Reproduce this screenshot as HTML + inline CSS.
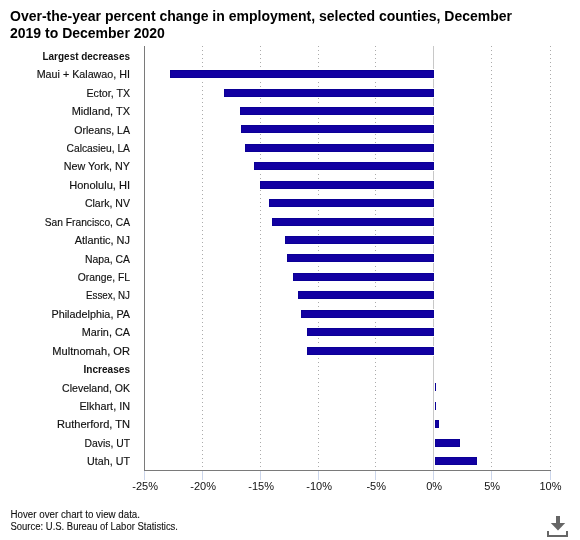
<!DOCTYPE html>
<html><head><meta charset="utf-8">
<style>
html,body{margin:0;padding:0;background:#fff;width:580px;height:540px;overflow:hidden}
svg{display:block}
text{will-change:transform}
.t{font-family:"Liberation Sans",sans-serif;font-weight:bold;font-size:14px;fill:#000}
.lab{font-family:"Liberation Sans",sans-serif;font-size:10.5px;fill:#111;stroke:#111;stroke-width:0.15px}
.xl{font-family:"Liberation Sans",sans-serif;font-size:11px;fill:#111}
.ft{font-family:"Liberation Sans",sans-serif;font-size:10px;fill:#111;stroke:#111;stroke-width:0.1px}
</style></head><body>
<svg width="580" height="540" viewBox="0 0 580 540">
<rect width="580" height="540" fill="#fff"/>
<text x="10" y="20.6" class="t" textLength="502" lengthAdjust="spacingAndGlyphs">Over-the-year percent change in employment, selected counties, December</text>
<text x="10" y="37.5" class="t">2019 to December 2020</text>
<line x1="202.5" y1="46" x2="202.5" y2="470" stroke="#ababab" stroke-width="1" stroke-dasharray="1,3"/>
<line x1="260.5" y1="46" x2="260.5" y2="470" stroke="#ababab" stroke-width="1" stroke-dasharray="1,3"/>
<line x1="318.5" y1="46" x2="318.5" y2="470" stroke="#ababab" stroke-width="1" stroke-dasharray="1,3"/>
<line x1="375.5" y1="46" x2="375.5" y2="470" stroke="#ababab" stroke-width="1" stroke-dasharray="1,3"/>
<line x1="491.5" y1="46" x2="491.5" y2="470" stroke="#ababab" stroke-width="1" stroke-dasharray="1,3"/>
<line x1="550.5" y1="46" x2="550.5" y2="470" stroke="#ababab" stroke-width="1" stroke-dasharray="1,3"/>
<line x1="433.5" y1="46" x2="433.5" y2="470" stroke="#c8c8c8" stroke-width="1"/>
<line x1="144.5" y1="470" x2="144.5" y2="480" stroke="#ccd6eb" stroke-width="1"/>
<line x1="202.5" y1="470" x2="202.5" y2="480" stroke="#ccd6eb" stroke-width="1"/>
<line x1="260.5" y1="470" x2="260.5" y2="480" stroke="#ccd6eb" stroke-width="1"/>
<line x1="318.5" y1="470" x2="318.5" y2="480" stroke="#ccd6eb" stroke-width="1"/>
<line x1="375.5" y1="470" x2="375.5" y2="480" stroke="#ccd6eb" stroke-width="1"/>
<line x1="433.5" y1="470" x2="433.5" y2="480" stroke="#ccd6eb" stroke-width="1"/>
<line x1="491.5" y1="470" x2="491.5" y2="480" stroke="#ccd6eb" stroke-width="1"/>
<line x1="550.5" y1="470" x2="550.5" y2="480" stroke="#ccd6eb" stroke-width="1"/>
<rect x="169" y="69" width="266" height="10" fill="#fff"/>
<rect x="170" y="70" width="264" height="8" fill="#0b0096"/>
<rect x="171" y="71" width="262" height="6" fill="#1200a2"/>
<rect x="223" y="88" width="212" height="10" fill="#fff"/>
<rect x="224" y="89" width="210" height="8" fill="#0b0096"/>
<rect x="225" y="90" width="208" height="6" fill="#1200a2"/>
<rect x="239" y="106" width="196" height="10" fill="#fff"/>
<rect x="240" y="107" width="194" height="8" fill="#0b0096"/>
<rect x="241" y="108" width="192" height="6" fill="#1200a2"/>
<rect x="240" y="124" width="195" height="10" fill="#fff"/>
<rect x="241" y="125" width="193" height="8" fill="#0b0096"/>
<rect x="242" y="126" width="191" height="6" fill="#1200a2"/>
<rect x="244" y="143" width="191" height="10" fill="#fff"/>
<rect x="245" y="144" width="189" height="8" fill="#0b0096"/>
<rect x="246" y="145" width="187" height="6" fill="#1200a2"/>
<rect x="253" y="161" width="182" height="10" fill="#fff"/>
<rect x="254" y="162" width="180" height="8" fill="#0b0096"/>
<rect x="255" y="163" width="178" height="6" fill="#1200a2"/>
<rect x="259" y="180" width="176" height="10" fill="#fff"/>
<rect x="260" y="181" width="174" height="8" fill="#0b0096"/>
<rect x="261" y="182" width="172" height="6" fill="#1200a2"/>
<rect x="268" y="198" width="167" height="10" fill="#fff"/>
<rect x="269" y="199" width="165" height="8" fill="#0b0096"/>
<rect x="270" y="200" width="163" height="6" fill="#1200a2"/>
<rect x="271" y="217" width="164" height="10" fill="#fff"/>
<rect x="272" y="218" width="162" height="8" fill="#0b0096"/>
<rect x="273" y="219" width="160" height="6" fill="#1200a2"/>
<rect x="284" y="235" width="151" height="10" fill="#fff"/>
<rect x="285" y="236" width="149" height="8" fill="#0b0096"/>
<rect x="286" y="237" width="147" height="6" fill="#1200a2"/>
<rect x="286" y="253" width="149" height="10" fill="#fff"/>
<rect x="287" y="254" width="147" height="8" fill="#0b0096"/>
<rect x="288" y="255" width="145" height="6" fill="#1200a2"/>
<rect x="292" y="272" width="143" height="10" fill="#fff"/>
<rect x="293" y="273" width="141" height="8" fill="#0b0096"/>
<rect x="294" y="274" width="139" height="6" fill="#1200a2"/>
<rect x="297" y="290" width="138" height="10" fill="#fff"/>
<rect x="298" y="291" width="136" height="8" fill="#0b0096"/>
<rect x="299" y="292" width="134" height="6" fill="#1200a2"/>
<rect x="300" y="309" width="135" height="10" fill="#fff"/>
<rect x="301" y="310" width="133" height="8" fill="#0b0096"/>
<rect x="302" y="311" width="131" height="6" fill="#1200a2"/>
<rect x="306" y="327" width="129" height="10" fill="#fff"/>
<rect x="307" y="328" width="127" height="8" fill="#0b0096"/>
<rect x="308" y="329" width="125" height="6" fill="#1200a2"/>
<rect x="306" y="346" width="129" height="10" fill="#fff"/>
<rect x="307" y="347" width="127" height="8" fill="#0b0096"/>
<rect x="308" y="348" width="125" height="6" fill="#1200a2"/>
<rect x="434" y="382" width="3" height="10" fill="#fff"/>
<rect x="435" y="383" width="1" height="8" fill="#0b0096"/>
<rect x="434" y="401" width="3" height="10" fill="#fff"/>
<rect x="435" y="402" width="1" height="8" fill="#0b0096"/>
<rect x="434" y="419" width="6" height="10" fill="#fff"/>
<rect x="435" y="420" width="4" height="8" fill="#0b0096"/>
<rect x="436" y="421" width="2" height="6" fill="#1200a2"/>
<rect x="434" y="438" width="27" height="10" fill="#fff"/>
<rect x="435" y="439" width="25" height="8" fill="#0b0096"/>
<rect x="436" y="440" width="23" height="6" fill="#1200a2"/>
<rect x="434" y="456" width="44" height="10" fill="#fff"/>
<rect x="435" y="457" width="42" height="8" fill="#0b0096"/>
<rect x="436" y="458" width="40" height="6" fill="#1200a2"/>
<line x1="144.5" y1="46" x2="144.5" y2="471" stroke="#7a7a7a" stroke-width="1"/>
<line x1="144" y1="470.5" x2="551" y2="470.5" stroke="#7a7a7a" stroke-width="1"/>
<text x="42.5" y="60.00" textLength="87.5" lengthAdjust="spacingAndGlyphs" font-weight="bold" class="lab" style="stroke-width:0">Largest decreases</text>
<text x="36.7" y="78.00" textLength="93.3" lengthAdjust="spacingAndGlyphs" font-weight="normal" class="lab">Maui + Kalawao, HI</text>
<text x="86.5" y="97.00" textLength="43.5" lengthAdjust="spacingAndGlyphs" font-weight="normal" class="lab">Ector, TX</text>
<text x="71.7" y="115.00" textLength="58.3" lengthAdjust="spacingAndGlyphs" font-weight="normal" class="lab">Midland, TX</text>
<text x="74.3" y="134.00" textLength="55.7" lengthAdjust="spacingAndGlyphs" font-weight="normal" class="lab">Orleans, LA</text>
<text x="66.5" y="152.00" textLength="63.5" lengthAdjust="spacingAndGlyphs" font-weight="normal" class="lab">Calcasieu, LA</text>
<text x="63.7" y="170.00" textLength="66.3" lengthAdjust="spacingAndGlyphs" font-weight="normal" class="lab">New York, NY</text>
<text x="69.2" y="189.00" textLength="60.8" lengthAdjust="spacingAndGlyphs" font-weight="normal" class="lab">Honolulu, HI</text>
<text x="84.9" y="207.00" textLength="45.1" lengthAdjust="spacingAndGlyphs" font-weight="normal" class="lab">Clark, NV</text>
<text x="44.8" y="226.00" textLength="85.2" lengthAdjust="spacingAndGlyphs" font-weight="normal" class="lab">San Francisco, CA</text>
<text x="74.7" y="244.00" textLength="55.3" lengthAdjust="spacingAndGlyphs" font-weight="normal" class="lab">Atlantic, NJ</text>
<text x="84.9" y="263.00" textLength="45.1" lengthAdjust="spacingAndGlyphs" font-weight="normal" class="lab">Napa, CA</text>
<text x="77.8" y="281.00" textLength="52.2" lengthAdjust="spacingAndGlyphs" font-weight="normal" class="lab">Orange, FL</text>
<text x="86.1" y="299.00" textLength="43.9" lengthAdjust="spacingAndGlyphs" font-weight="normal" class="lab">Essex, NJ</text>
<text x="51.5" y="318.00" textLength="78.5" lengthAdjust="spacingAndGlyphs" font-weight="normal" class="lab">Philadelphia, PA</text>
<text x="81.8" y="336.00" textLength="48.2" lengthAdjust="spacingAndGlyphs" font-weight="normal" class="lab">Marin, CA</text>
<text x="52.3" y="355.00" textLength="77.7" lengthAdjust="spacingAndGlyphs" font-weight="normal" class="lab">Multnomah, OR</text>
<text x="83.5" y="373.00" textLength="46.5" lengthAdjust="spacingAndGlyphs" font-weight="bold" class="lab" style="stroke-width:0">Increases</text>
<text x="62.1" y="392.00" textLength="67.9" lengthAdjust="spacingAndGlyphs" font-weight="normal" class="lab">Cleveland, OK</text>
<text x="79.4" y="410.00" textLength="50.6" lengthAdjust="spacingAndGlyphs" font-weight="normal" class="lab">Elkhart, IN</text>
<text x="57.0" y="428.00" textLength="73.0" lengthAdjust="spacingAndGlyphs" font-weight="normal" class="lab">Rutherford, TN</text>
<text x="84.5" y="447.00" textLength="45.5" lengthAdjust="spacingAndGlyphs" font-weight="normal" class="lab">Davis, UT</text>
<text x="87.1" y="465.00" textLength="42.9" lengthAdjust="spacingAndGlyphs" font-weight="normal" class="lab">Utah, UT</text>
<text x="145.2" y="490" text-anchor="middle" class="xl">-25%</text>
<text x="203.2" y="490" text-anchor="middle" class="xl">-20%</text>
<text x="261.2" y="490" text-anchor="middle" class="xl">-15%</text>
<text x="319.2" y="490" text-anchor="middle" class="xl">-10%</text>
<text x="376.2" y="490" text-anchor="middle" class="xl">-5%</text>
<text x="434.2" y="490" text-anchor="middle" class="xl">0%</text>
<text x="492.2" y="490" text-anchor="middle" class="xl">5%</text>
<text x="550.5" y="490" text-anchor="middle" class="xl">10%</text>
<text x="10.5" y="518" class="ft" textLength="129.5" lengthAdjust="spacingAndGlyphs">Hover over chart to view data.</text>
<text x="10.5" y="530" class="ft" textLength="167.5" lengthAdjust="spacingAndGlyphs">Source: U.S. Bureau of Labor Statistics.</text>
<g fill="#666">
<rect x="556" y="516" width="4" height="7.5"/>
<polygon points="550.8,523 565.2,523 558,530.4"/>
<rect x="547" y="531" width="2" height="6"/>
<rect x="566" y="531" width="2" height="6"/>
<rect x="547" y="535" width="21" height="2"/>
</g>
</svg>
</body></html>
